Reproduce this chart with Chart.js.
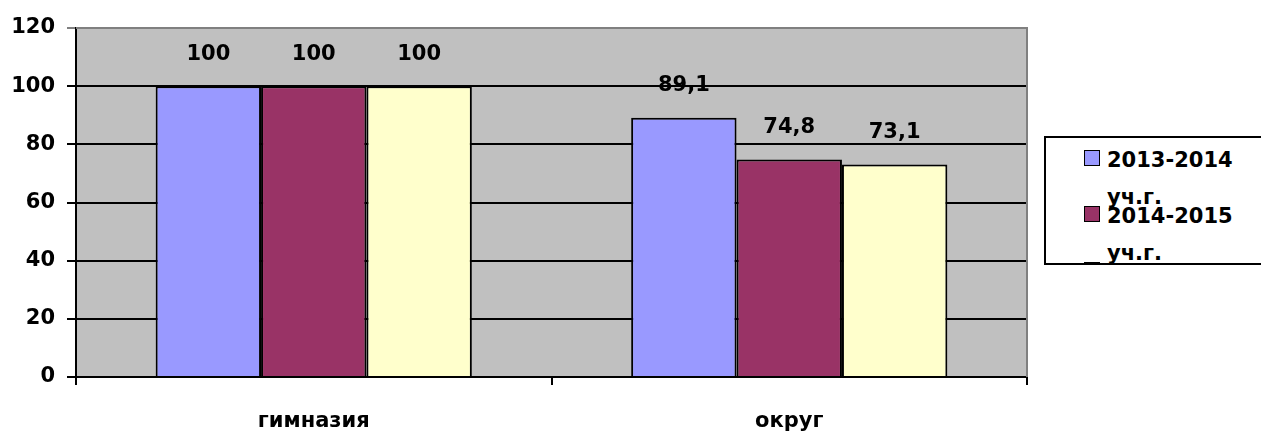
<!DOCTYPE html>
<html>
<head>
<meta charset="utf-8">
<script src="https://cdn.jsdelivr.net/npm/chart.js@4/dist/chart.umd.min.js"></script>
<style>
  html, body { margin: 0; padding: 0; background: #fff; }
  #wrap { position: relative; width: 1261px; height: 435px; overflow: hidden; }
  #legend {
    position: absolute; left: 1044px; top: 136px; width: 240px; height: 125px;
    border: 2px solid #000; border-right: none; background: #fff; overflow: hidden;
    font: bold 21px "DejaVu Sans", sans-serif; color: #000;
  }
  .item { position: absolute; left: 38px; width: 160px; }
  .swatch { position: absolute; left: 0; top: 0; width: 14px; height: 14px; border: 1.5px solid #000; }
  .label { position: absolute; left: 23px; top: -8px; width: 140px; line-height: 37px; }
</style>
</head>
<body>
<div id="wrap">
  <canvas id="chart" width="1261" height="435"></canvas>
  <div id="legend"></div>
</div>
<script>
const categories = ["гимназия", "округ"];
const seriesLabels = ["2013-2014 уч.г.", "2014-2015 уч.г.", "2015-2016 уч.г."];
const values2013 = [100, 89.1];
const values2014 = [100, 74.8];
const values2015 = [100, 73.1];
const yTicks = [0, 20, 40, 60, 80, 100, 120];
const colors = ["#9999ff", "#993366", "#ffffcc"];

const FONT = "'DejaVu Sans', sans-serif";

const plotBackground = {
  id: "plotBackground",
  beforeDraw(chart) {
    const { ctx, chartArea: a } = chart;
    ctx.save();
    ctx.fillStyle = "#c0c0c0";
    ctx.fillRect(a.left, a.top, a.right - a.left, a.bottom - a.top);
    ctx.restore();
  },
  afterDraw(chart) {
    const { ctx, chartArea: a } = chart;
    ctx.save();
    ctx.strokeStyle = "#808080";
    ctx.lineWidth = 2;
    ctx.beginPath();
    ctx.moveTo(a.left, a.top);
    ctx.lineTo(a.right, a.top);
    ctx.lineTo(a.right, a.bottom);
    ctx.stroke();
    ctx.restore();
  },
};

const valueLabels = {
  id: "valueLabels",
  afterDatasetsDraw(chart) {
    const { ctx } = chart;
    ctx.save();
    ctx.font = "bold 21px " + FONT;
    ctx.fillStyle = "#000";
    ctx.textAlign = "center";
    ctx.textBaseline = "middle";
    chart.data.datasets.forEach((ds, i) => {
      chart.getDatasetMeta(i).data.forEach((bar, j) => {
        const text = String(ds.data[j]).replace(".", ",");
        ctx.fillText(text, bar.x, bar.y - 32);
      });
    });
    ctx.restore();
  },
};

const seriesValues = [values2013, values2014, values2015];

const chart = new Chart(document.getElementById("chart"), {
  type: "bar",
  data: {
    labels: categories,
    datasets: seriesLabels.map((label, i) => ({
      label,
      data: seriesValues[i],
      backgroundColor: colors[i],
      borderColor: "#000",
      borderWidth: 2,
      barPercentage: 1,
      categoryPercentage: 0.665,
    })),
  },
  options: {
    responsive: false,
    animation: false,
    layout: { padding: { top: 28, right: 234, left: 0, bottom: 0 } },
    plugins: { legend: { display: false }, tooltip: { enabled: false } },
    scales: {
      x: {
        afterFit: (s) => { s.height = 58; },
        border: { color: "#000", width: 2 },
        grid: { offset: true, drawOnChartArea: false, tickLength: 8, color: "#000", lineWidth: 2 },
        ticks: { color: "#000", padding: 24, font: { family: FONT, size: 21, weight: "bold" } },
      },
      y: {
        min: 0,
        max: 120,
        afterFit: (s) => { s.width = 76; },
        afterBuildTicks: (s) => { s.ticks = yTicks.map((v) => ({ value: v })); },
        border: { color: "#000", width: 2 },
        grid: {
          color: (c) => (c.tick && c.tick.value === 120 ? "#808080" : "#000"),
          lineWidth: 2,
          tickLength: 9,
        },
        ticks: { color: "#000", padding: 12, font: { family: FONT, size: 21, weight: "bold" } },
      },
    },
  },
  plugins: [plotBackground, valueLabels],
});

const legend = document.getElementById("legend");
seriesLabels.forEach((label, i) => {
  const item = document.createElement("div");
  item.className = "item";
  item.style.top = 12 + 56 * i + "px";
  item.innerHTML = `<div class="swatch" style="background:${colors[i]}"></div><div class="label">${label}</div>`;
  legend.appendChild(item);
});
</script>
</body>
</html>
